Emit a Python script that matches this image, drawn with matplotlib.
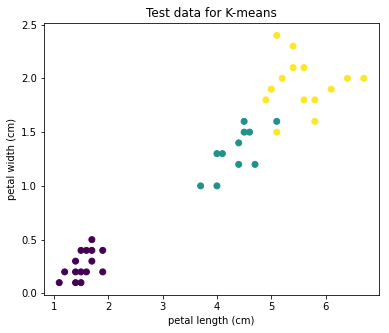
import numpy as np
import matplotlib
matplotlib.use('Agg')
import matplotlib.pyplot as plt

# petal length / width and the cluster each sample was assigned to
petal_length = [1.1, 1.4, 1.5,
                1.2, 1.4, 1.5, 1.6, 1.9,
                1.4, 1.7,
                1.5, 1.6, 1.7, 1.9,
                1.7,
                3.7, 4.0, 4.4, 4.7, 4.0, 4.1, 4.4,
                4.5, 4.6, 4.5, 5.1,
                5.1, 5.8, 4.9, 5.6, 5.8, 5.0, 6.1,
                5.2, 6.4, 6.7, 5.4, 5.6, 5.4, 5.1]
petal_width = [0.1, 0.1, 0.1,
               0.2, 0.2, 0.2, 0.2, 0.2,
               0.3, 0.3,
               0.4, 0.4, 0.4, 0.4,
               0.5,
               1.0, 1.0, 1.2, 1.2, 1.3, 1.3, 1.4,
               1.5, 1.5, 1.6, 1.6,
               1.5, 1.6, 1.8, 1.8, 1.8, 1.9, 1.9,
               2.0, 2.0, 2.0, 2.1, 2.1, 2.3, 2.4]
labels = [0] * 15 + [1] * 11 + [2] * 14

fig = plt.figure(figsize=(389 / 72, 333 / 72), dpi=72)
ax = fig.add_axes([44 / 389, 38 / 333, 335 / 389, 272 / 333])
ax.scatter(petal_length, petal_width, c=labels, cmap='viridis')
ax.set_title('Test data for K-means')
ax.set_xlabel('petal length (cm)')
ax.set_ylabel('petal width (cm)')

plt.savefig('out.png', dpi=72)
